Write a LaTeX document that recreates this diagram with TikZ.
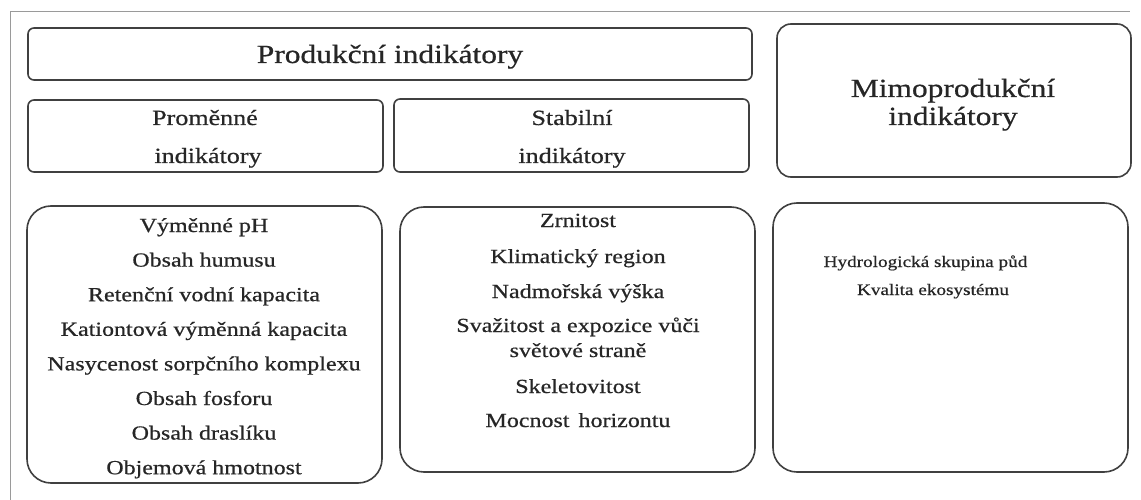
\documentclass[tikz,border=0pt]{standalone}
\usepackage{fontspec}
\setmainfont{Liberation Serif}[FakeStretch=1.2,FakeBold=0.6]
\definecolor{txt}{HTML}{262626}
\definecolor{bord}{HTML}{404040}
\definecolor{frm}{HTML}{9A9A9A}
\begin{document}
\begin{tikzpicture}[x=1pt,y=-1pt,
  box/.style={draw=bord, line width=1.6pt, inner sep=0pt, outer sep=0pt, fill=white},
  t/.style={anchor=base, inner sep=0pt, text=txt},
  big/.style={t, font=\fontsize{26.2}{28}\selectfont},
  mid/.style={t, font=\fontsize{21.7}{24}\selectfont},
  lst/.style={t, font=\fontsize{20}{24}\selectfont},
  sml/.style={t, font=\fontsize{16}{19}\selectfont}]
\useasboundingbox[fill=white] (0,0) rectangle (1141,500);
% page frame
\coordinate (f1) at (10,500);
\coordinate (f2) at (10,12);
\coordinate (f3) at (1130,12);
\draw[frm, line width=1pt] (f1) -- (f2) -- (f3);
% boxes
\node[box, rounded corners=6pt, minimum width=724pt, minimum height=52pt] (prod) at (390,54) {};
\node[box, rounded corners=6pt, minimum width=355pt, minimum height=72pt] (prom) at (205.5,136) {};
\node[box, rounded corners=6pt, minimum width=355pt, minimum height=73pt] (stab) at (571.5,135.5) {};
\node[box, rounded corners=14pt, minimum width=354pt, minimum height=153pt] (mimo) at (954,100.5) {};
\node[box, rounded corners=24pt, minimum width=355pt, minimum height=277pt] (lst1) at (204.5,344.5) {};
\node[box, rounded corners=24pt, minimum width=355pt, minimum height=265pt] (lst2) at (577.5,339.5) {};
\node[box, rounded corners=24pt, minimum width=355pt, minimum height=269pt] (lst3) at (950.5,337.5) {};
% headers
\node[big] (tprod) at (390,63) {Produkční indikátory};
\node[mid] (tprom1) at (205,125) {Proměnné};
\node[mid] (tprom2) at (208,163) {indikátory};
\node[mid] (tstab1) at (572,125) {Stabilní};
\node[mid] (tstab2) at (572,163) {indikátory};
\node[big] (tmimo1) at (953,97) {Mimoprodukční};
\node[big] (tmimo2) at (953,125) {indikátory};
% left list
\node[lst] (a1) at (204,232) {Výměnné pH};
\node[lst] (a2) at (204,266.6) {Obsah humusu};
\node[lst] (a3) at (204,301.2) {Retenční vodní kapacita};
\node[lst] (a4) at (204,335.8) {Kationtová výměnná kapacita};
\node[lst] (a5) at (204,370.4) {Nasycenost sorpčního komplexu};
\node[lst] (a6) at (204,405) {Obsah fosforu};
\node[lst] (a7) at (204,439.6) {Obsah draslíku};
\node[lst] (a8) at (204,474.2) {Objemová hmotnost};
% middle list
\node[lst] (b1) at (578,227) {Zrnitost};
\node[lst] (b2) at (578,263) {Klimatický region};
\node[lst] (b3) at (578,298) {Nadmořská výška};
\node[lst] (b4) at (578,332) {Svažitost a expozice vůči};
\node[lst] (b5) at (578,357) {světové straně};
\node[lst] (b6) at (578,393) {Skeletovitost};
\node[lst] (b7) at (578,427) {Mocnost\hspace{0.45em}horizontu};
% right list
\node[sml] (c1) at (925.5,267) {Hydrologická skupina půd};
\node[sml] (c2) at (933,295) {Kvalita ekosystému};
\end{tikzpicture}
\end{document}
